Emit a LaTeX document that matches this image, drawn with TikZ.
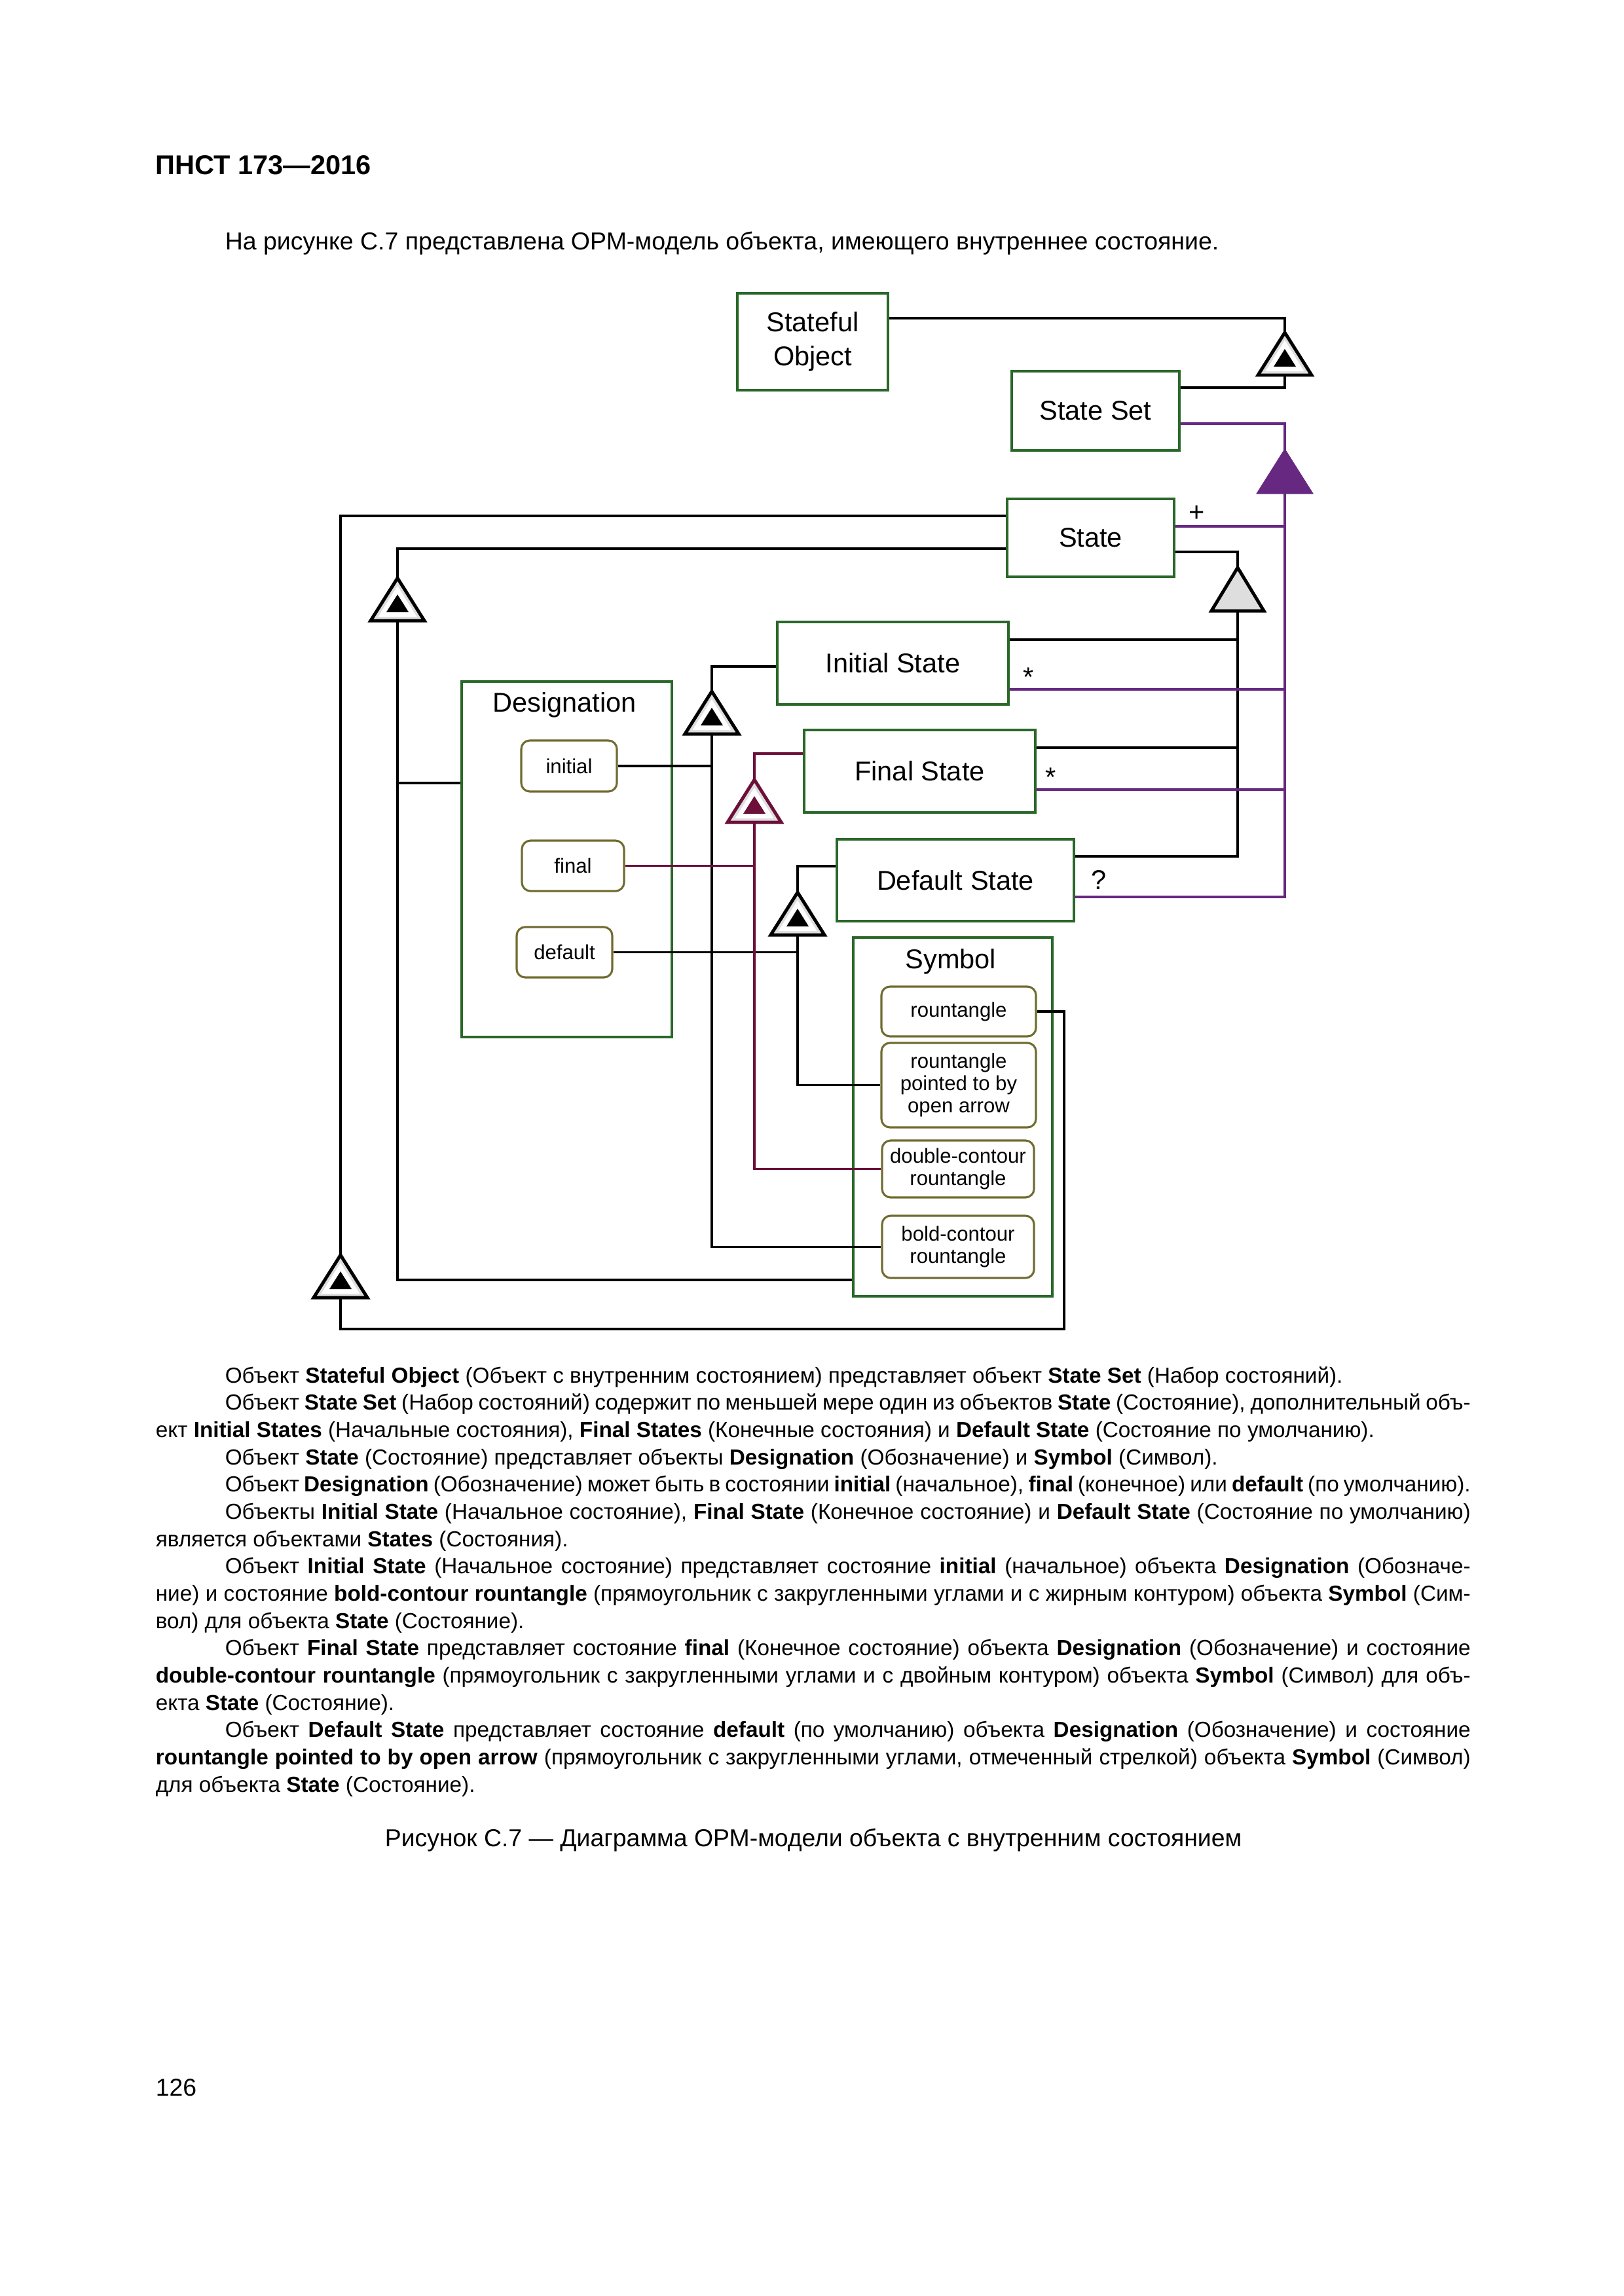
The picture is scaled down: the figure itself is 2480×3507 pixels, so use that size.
\documentclass[tikz,border=0pt]{standalone}
\usepackage{fontspec}
\setmainfont{Liberation Sans}
\usetikzlibrary{calc}
\definecolor{objgreen}{RGB}{42,104,42}
\definecolor{stolive}{RGB}{112,108,48}
\definecolor{aggpurple}{RGB}{102,40,128}
\definecolor{exmaroon}{RGB}{108,16,58}
\definecolor{trifill}{RGB}{222,222,222}
\newcommand{\pxu}{0.084667mm}
\newcommand{\mktri}[3]{\coordinate (#1) at (#2,#3); \coordinate (#1b) at (#2,#3+65);}
\newcommand{\exhibtri}[2]{%
  \draw[line width=1.2pt,draw=#2,fill=trifill,line join=miter] (#1) -- ++(41,65) -- ++(-82,0) -- cycle;
  \fill[white] ($(#1)+(0,12)$) -- ++(29.5,47) -- ++(-59,0) -- cycle;
  \fill[#2] ($(#1)+(0,25)$) -- ++(17,27) -- ++(-34,0) -- cycle;}
\newcommand{\jline}[1]{\hbox to \linewidth{#1}}
\newcommand{\nline}[1]{\hbox{#1}}
\newcommand{\pin}{\hspace*{8.97mm}}
\tikzset{
 obj/.style={draw=objgreen,line width=1.1pt,inner sep=0pt,align=center,font=\fontsize{10}{12.6}\selectfont},
 stt/.style={draw=stolive,line width=0.75pt,rounded corners=1.1mm,fill=white,inner sep=0pt,align=center,font=\fontsize{7.5}{8.2}\selectfont},
 conn/.style={line width=0.9pt,draw=black},
 aggl/.style={line width=0.8pt,draw=aggpurple},
 mcon/.style={line width=0.8pt,draw=exmaroon},
 lbl/.style={inner sep=0pt,font=\fontsize{10}{12}\selectfont,anchor=base},
 ttl/.style={inner sep=0pt,font=\fontsize{10}{12}\selectfont},
}
\begin{document}
\begin{tikzpicture}[x=0.084667mm,y=-0.084667mm]
\useasboundingbox (0,0) rectangle (2480,3507);

% page texts
\node[anchor=base west,inner sep=0pt,font=\fontsize{10}{12}\selectfont\bfseries] (hdr) at (237,266) {ПНСТ 173—2016};
\node[anchor=base west,inner sep=0pt,font=\fontsize{9.03}{11}\selectfont] (intro) at (343,381) {На рисунке С.7 представлена ОРМ-модель объекта, имеющего внутреннее состояние.};

% containers
\node[obj,minimum width=321*\pxu,minimum height=543*\pxu] (DG) at (865.5,1312.5) {};
\node[ttl] (DGl) at (862,1077) {Designation};
\node[obj,minimum width=304*\pxu,minimum height=548*\pxu] (SY) at (1455,1706) {};
\node[ttl] (SYl) at (1452,1469) {Symbol};

% objects
\node[obj,fill=white,minimum width=230*\pxu,minimum height=148*\pxu] (SO) at (1241,522) {Stateful\\Object};
\node[obj,fill=white,minimum width=256*\pxu,minimum height=121*\pxu] (SS) at (1673,627.5) {State Set};
\node[obj,fill=white,minimum width=255*\pxu,minimum height=119*\pxu] (ST) at (1665.5,821.5) {State};
\node[obj,fill=white,minimum width=353*\pxu,minimum height=126*\pxu] (IS) at (1363.5,1013) {Initial State};
\node[obj,fill=white,minimum width=353*\pxu,minimum height=126*\pxu] (FS) at (1404.5,1178) {Final State};
\node[obj,fill=white,minimum width=362*\pxu,minimum height=125*\pxu] (DS) at (1459,1344.5) {Default State};

% states
\node[stt,minimum width=146*\pxu,minimum height=78*\pxu] (ini) at (869,1170) {initial};
\node[stt,minimum width=156*\pxu,minimum height=77*\pxu] (fin) at (875,1322.5) {final};
\node[stt,minimum width=146*\pxu,minimum height=77*\pxu] (dfl) at (862,1454.5) {default};
\node[stt,minimum width=236*\pxu,minimum height=76*\pxu] (r1) at (1464,1545) {rountangle};
\node[stt,minimum width=236*\pxu,minimum height=129*\pxu] (r2) at (1464,1657.5) {rountangle\\pointed to by\\open arrow};
\node[stt,minimum width=232*\pxu,minimum height=87*\pxu] (r3) at (1463,1785.5) {double-contour\\rountangle};
\node[stt,minimum width=232*\pxu,minimum height=95*\pxu] (r4) at (1463,1904.5) {bold-contour\\rountangle};

% triangle anchors
\mktri{t1}{1962}{508}
\mktri{tp}{1962}{688}
\mktri{tg}{1890}{867}
\mktri{tL}{520}{1917}
\mktri{tS}{607}{883}
\mktri{tI}{1087}{1056}
\mktri{tF}{1152}{1191}
\mktri{tD}{1218}{1363}

% bend points
\coordinate (c1) at (1962,486);
\coordinate (c2) at (1962,592);
\coordinate (p1) at (1962,647);
\coordinate (pST) at (1962,804);
\coordinate (pIS) at (1962,1053);
\coordinate (pFS) at (1962,1206);
\coordinate (p2) at (1962,1370);
\coordinate (g1) at (1890,843);
\coordinate (gIS) at (1890,977);
\coordinate (gFS) at (1890,1142);
\coordinate (g2) at (1890,1308);
\coordinate (L1) at (520,788);
\coordinate (L2) at (520,2030);
\coordinate (L3) at (1625,2030);
\coordinate (S1) at (607,838);
\coordinate (S2) at (607,1955);
\coordinate (S3) at (607,1196);
\coordinate (I1) at (1087,1018);
\coordinate (F1) at (1152,1151);
\coordinate (D1) at (1218,1323);

% black connectors
\draw[conn] (SO.east |- c1) -- (c1) -- (t1);
\draw[conn] (t1b) -- (c2) -- (SS.east |- c2);
\draw[conn] (ST.east |- g1) -- (g1) -- (tg);
\draw[conn] (tgb) -- (g2) -- (DS.east |- g2);
\draw[conn] (IS.east |- gIS) -- (gIS);
\draw[conn] (FS.east |- gFS) -- (gFS);
\draw[conn] (ST.west |- L1) -- (L1) -- (tL);
\draw[conn] (tLb) -- (L2) -- (L3) -- (L3 |- r1.east) -- (r1.east);
\draw[conn] (ST.west |- S1) -- (S1) -- (tS);
\draw[conn] (tSb) -- (S2) -- (SY.west |- S2);
\draw[conn] (S3) -- (DG.west |- S3);
\draw[conn] (IS.west |- I1) -- (I1) -- (tI);
\draw[conn] (tIb) |- (r4.west);
\draw[conn] (ini.east) -- (ini.east -| tI);
\draw[conn] (DS.west |- D1) -- (D1) -- (tD);
\draw[conn] (tDb) |- (r2.west);
\draw[conn] (dfl.east) -- (dfl.east -| tD);
% maroon
\draw[mcon] (FS.west |- F1) -- (F1) -- (tF);
\draw[mcon] (tFb) |- (r3.west);
\draw[mcon] (fin.east) -- (fin.east -| tF);
% purple
\draw[aggl] (SS.east |- p1) -- (p1) -- (tp);
\draw[aggl] (tpb) -- (p2) -- (DS.east |- p2);
\draw[aggl] (ST.east |- pST) -- (pST);
\draw[aggl] (IS.east |- pIS) -- (pIS);
\draw[aggl] (FS.east |- pFS) -- (pFS);

% triangles
\exhibtri{t1}{black}
\exhibtri{tL}{black}
\exhibtri{tS}{black}
\exhibtri{tI}{black}
\exhibtri{tD}{black}
\exhibtri{tF}{exmaroon}
\draw[line width=1.2pt,fill=trifill,line join=miter] (tg) -- ++(40,66) -- ++(-80,0) -- cycle;
\draw[line width=0.8pt,draw=aggpurple,fill=aggpurple,line join=miter] (tp) -- ++(41,65) -- ++(-82,0) -- cycle;

% multiplicities
\node[lbl] (plus) at (1828,796) {+};
\node[lbl] (ast1) at (1571,1048) {*};
\node[lbl] (ast2) at (1605,1201) {*};
\node[lbl] (qm) at (1678,1358) {?};

% body text
\node[anchor=base west,inner sep=0pt] (body) at (237,2112) {\parbox[t]{170.0mm}{\fontsize{8.02}{10.04}\selectfont
\nline{\pin Объект \textbf{Stateful Object} (Объект с внутренним состоянием) представляет объект \textbf{State Set} (Набор состояний).}
\jline{\pin Объект \textbf{State Set} (Набор состояний) содержит по меньшей мере один из объектов \textbf{State} (Состояние), дополнительный объ-}
\nline{ект \textbf{Initial States} (Начальные состояния), \textbf{Final States} (Конечные состояния) и \textbf{Default State} (Состояние по умолчанию).}
\nline{\pin Объект \textbf{State} (Состояние) представляет объекты \textbf{Designation} (Обозначение) и \textbf{Symbol} (Символ).}
\jline{\pin Объект \textbf{Designation} (Обозначение) может быть в состоянии \textbf{initial} (начальное), \textbf{final} (конечное) или \textbf{default} (по умолчанию).}
\jline{\pin Объекты \textbf{Initial State} (Начальное состояние), \textbf{Final State} (Конечное состояние) и \textbf{Default State} (Состояние по умолчанию)}
\nline{является объектами \textbf{States} (Состояния).}
\jline{\pin Объект \textbf{Initial State} (Начальное состояние) представляет состояние \textbf{initial} (начальное) объекта \textbf{Designation} (Обозначе-}
\jline{ние) и состояние \textbf{bold-contour rountangle} (прямоугольник с закругленными углами и с жирным контуром) объекта \textbf{Symbol} (Сим-}
\nline{вол) для объекта \textbf{State} (Состояние).}
\jline{\pin Объект \textbf{Final State} представляет состояние \textbf{final} (Конечное состояние) объекта \textbf{Designation} (Обозначение) и состояние}
\jline{\textbf{double-contour rountangle} (прямоугольник с закругленными углами и с двойным контуром) объекта \textbf{Symbol} (Символ) для объ-}
\nline{екта \textbf{State} (Состояние).}
\jline{\pin Объект \textbf{Default State} представляет состояние \textbf{default} (по умолчанию) объекта \textbf{Designation} (Обозначение) и состояние}
\jline{\textbf{rountangle pointed to by open arrow} (прямоугольник с закругленными углами, отмеченный стрелкой) объекта \textbf{Symbol} (Символ)}
\nline{для объекта \textbf{State} (Состояние).}
}};

\node[anchor=base,inner sep=0pt,font=\fontsize{9}{11}\selectfont] (cap) at (1242,2820) {Рисунок С.7 — Диаграмма ОРМ-модели объекта с внутренним состоянием};
\node[anchor=base west,inner sep=0pt,font=\fontsize{9}{11}\selectfont] (pg) at (237,3201) {126};
\end{tikzpicture}
\end{document}
